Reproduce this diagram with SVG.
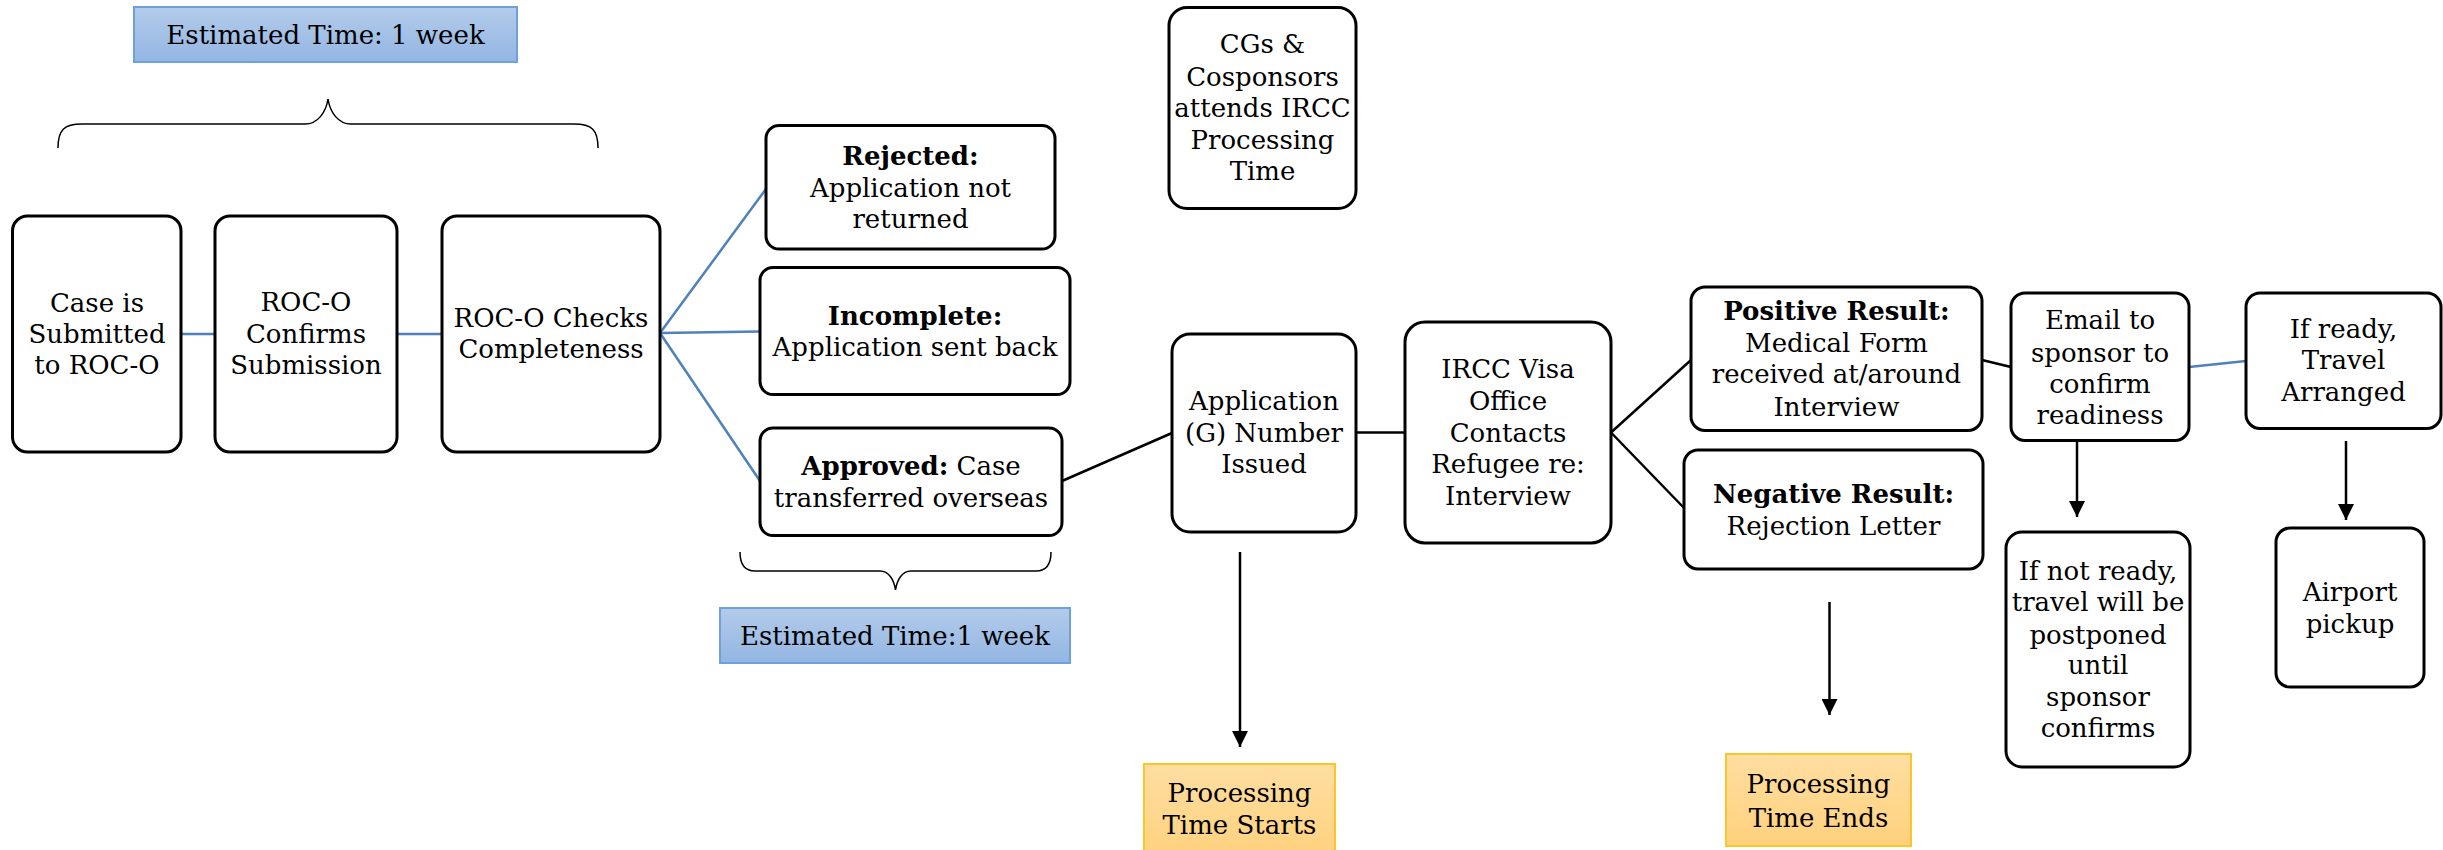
<svg xmlns="http://www.w3.org/2000/svg" width="2443" height="850" viewBox="0 0 2443 850">
<defs>
<linearGradient id="gBlue" x1="0" y1="0" x2="0" y2="1">
<stop offset="0" stop-color="#b3cbea"/><stop offset="1" stop-color="#93b6e3"/>
</linearGradient>
<linearGradient id="gOrange" x1="0" y1="0" x2="0" y2="1">
<stop offset="0" stop-color="#ffdea2"/><stop offset="1" stop-color="#ffd17c"/>
</linearGradient>
<marker id="arr" markerUnits="userSpaceOnUse" markerWidth="16" markerHeight="16" viewBox="0 0 16 16" refX="16" refY="8" orient="auto">
<path d="M0,0 L16,8 L0,16 Z" fill="#000"/>
</marker>
</defs>
<style>
.box{fill:#fff;stroke:#000;stroke-width:3}
.blue{fill:url(#gBlue);stroke:#6fa0dc;stroke-width:2}
.orange{fill:url(#gOrange);stroke:#fcc52a;stroke-width:2}
text{font-family:"DejaVu Serif","Liberation Serif",serif;font-size:26px;fill:#000;text-anchor:middle}
.b{font-weight:bold}
.cb{fill:none;stroke:#4f81bd;stroke-width:2.5}
.ck{fill:none;stroke:#000;stroke-width:2.5}
.brace{fill:none;stroke:#000;stroke-width:1.5}
</style>
<rect width="2443" height="850" fill="#fff"/>

<g id="connectors">
<line class="cb" x1="181" y1="334" x2="215" y2="334"/>
<line class="cb" x1="397" y1="334" x2="442" y2="334"/>
<line class="cb" x1="660" y1="333" x2="766" y2="189"/>
<line class="cb" x1="660" y1="333" x2="760" y2="331.5"/>
<line class="cb" x1="660" y1="333" x2="760" y2="481"/>
<line class="ck" x1="1062" y1="481" x2="1172" y2="433"/>
<line class="ck" x1="1356" y1="432.5" x2="1405" y2="432.5"/>
<line class="ck" x1="1611" y1="432.5" x2="1691" y2="360"/>
<line class="ck" x1="1611" y1="432.5" x2="1685" y2="509"/>
<line class="ck" x1="1982" y1="360" x2="2011" y2="367"/>
<line class="cb" x1="2189" y1="367" x2="2246" y2="361"/>
<line class="ck" x1="1240" y1="552" x2="1240" y2="747" marker-end="url(#arr)"/>
<line class="ck" x1="1829.5" y1="602" x2="1829.5" y2="715" marker-end="url(#arr)"/>
<line class="ck" x1="2077" y1="441" x2="2077" y2="517" marker-end="url(#arr)"/>
<line class="ck" x1="2346" y1="441" x2="2346" y2="520" marker-end="url(#arr)"/>
<path class="brace" d="M58,148 C58,130 64,124 82,124 L305,124 C318,124 326,112 328,99 C330,112 338,124 351,124 L574,124 C592,124 598,130 598,148"/>
<path class="brace" d="M740,552 C740,565 745,571 755,571 L880,571 C889,571 894,580 895.5,590 C897,580 902,571 911,571 L1036,571 C1046,571 1051,565 1051,552"/>
</g>

<g id="est1"><rect class="blue" x="134" y="7" width="383" height="55"/><text x="325.5" y="44">Estimated Time: 1 week</text></g>
<g id="est2"><rect class="blue" x="720" y="608" width="350" height="55"/><text x="895" y="645">Estimated Time:1 week</text></g>

<g id="n1"><rect class="box" x="12.5" y="216" width="168.5" height="236" rx="15"/>
<text x="97" y="312">Case is</text><text x="97" y="343">Submitted</text><text x="97" y="374">to ROC-O</text></g>
<g id="n2"><rect class="box" x="215" y="216" width="182" height="236" rx="15"/>
<text x="306" y="311">ROC-O</text><text x="306" y="343">Confirms</text><text x="306" y="374">Submission</text></g>
<g id="n3"><rect class="box" x="442" y="216" width="218" height="236" rx="15"/>
<text x="551" y="327">ROC-O Checks</text><text x="551" y="358">Completeness</text></g>

<g id="rejected"><rect class="box" x="766" y="125.5" width="289" height="123.5" rx="13"/>
<text x="910.5" y="164.5" class="b">Rejected:</text><text x="910.5" y="197">Application not</text><text x="910.5" y="227.5">returned</text></g>
<g id="incomplete"><rect class="box" x="760" y="267.5" width="310" height="127" rx="13"/>
<text x="915" y="324.5" class="b">Incomplete:</text><text x="915" y="356">Application sent back</text></g>
<g id="approved"><rect class="box" x="760" y="428" width="302" height="107.5" rx="13"/>
<text x="911" y="474.5"><tspan class="b">Approved:</tspan> Case</text><text x="911" y="507">transferred overseas</text></g>

<g id="cgs"><rect class="box" x="1169" y="7.5" width="187" height="201" rx="18"/>
<text x="1262.5" y="53">CGs &amp;</text><text x="1262.5" y="85.5">Cosponsors</text><text x="1262.5" y="117">attends IRCC</text><text x="1262.5" y="149">Processing</text><text x="1262.5" y="180">Time</text></g>

<g id="app"><rect class="box" x="1172" y="334" width="184" height="198" rx="18"/>
<text x="1264" y="409.5">Application</text><text x="1264" y="441.5">(G) Number</text><text x="1264" y="473">Issued</text></g>

<g id="ircc"><rect class="box" x="1405" y="322" width="206" height="221" rx="20"/>
<text x="1508" y="378">IRCC Visa</text><text x="1508" y="409.5">Office</text><text x="1508" y="441.5">Contacts</text><text x="1508" y="473">Refugee re:</text><text x="1508" y="504.5">Interview</text></g>

<g id="positive"><rect class="box" x="1691" y="287" width="291" height="143.5" rx="14"/>
<text x="1836.5" y="320" class="b">Positive Result:</text><text x="1836.5" y="352">Medical Form</text><text x="1836.5" y="383">received at/around</text><text x="1836.5" y="416">Interview</text></g>

<g id="negative"><rect class="box" x="1684" y="450" width="299" height="119" rx="14"/>
<text x="1833.5" y="503" class="b">Negative Result:</text><text x="1833.5" y="534.5">Rejection Letter</text></g>

<g id="email"><rect class="box" x="2011" y="293" width="178" height="147.5" rx="14"/>
<text x="2100" y="329">Email to</text><text x="2100" y="361.5">sponsor to</text><text x="2100" y="393">confirm</text><text x="2100" y="424">readiness</text></g>

<g id="ready"><rect class="box" x="2246" y="293" width="195" height="135.5" rx="14"/>
<text x="2343.5" y="337.5">If ready,</text><text x="2343.5" y="369">Travel</text><text x="2343.5" y="400.5">Arranged</text></g>

<g id="notready"><rect class="box" x="2006" y="532" width="184" height="235" rx="16"/>
<text x="2098" y="579.5">If not ready,</text><text x="2098" y="611">travel will be</text><text x="2098" y="643.5">postponed</text><text x="2098" y="674">until</text><text x="2098" y="706">sponsor</text><text x="2098" y="737">confirms</text></g>

<g id="airport"><rect class="box" x="2276" y="528" width="148" height="159" rx="14"/>
<text x="2350" y="600.5">Airport</text><text x="2350" y="633">pickup</text></g>

<g id="starts"><rect class="orange" x="1144" y="764" width="191" height="96"/>
<text x="1239.5" y="802">Processing</text><text x="1239.5" y="834">Time Starts</text></g>

<g id="ends"><rect class="orange" x="1726" y="754" width="185" height="92"/>
<text x="1818.5" y="793">Processing</text><text x="1818.5" y="827">Time Ends</text></g>
</svg>
